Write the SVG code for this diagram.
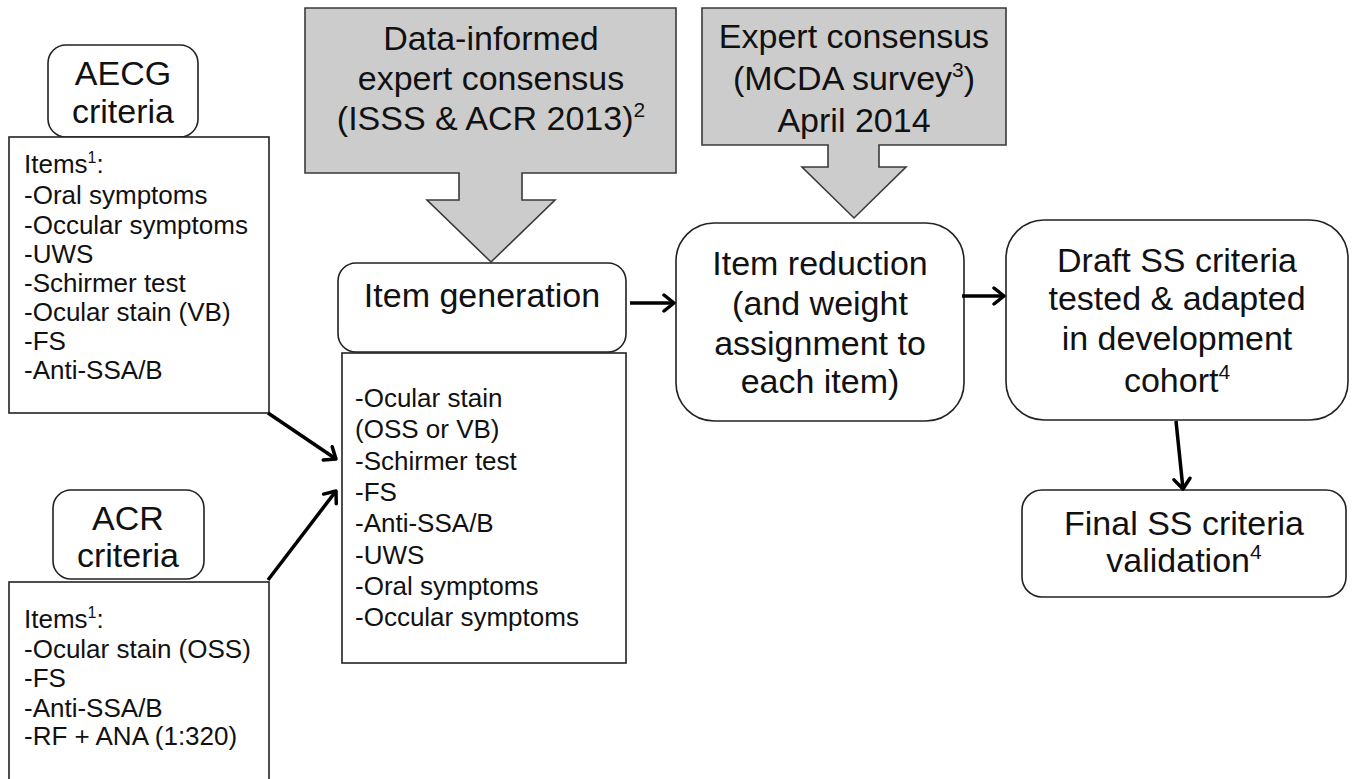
<svg xmlns="http://www.w3.org/2000/svg" width="1352" height="779" viewBox="0 0 1352 779">
<defs>
<style>
.box{fill:#ffffff;stroke:#222;stroke-width:1.6}
.gray{fill:#cccccc;stroke:#3a3a3a;stroke-width:1.6}
.big{font-family:"Liberation Sans",Arial,sans-serif;font-size:34px;fill:#111;text-anchor:middle}
.small{font-family:"Liberation Sans",Arial,sans-serif;font-size:26px;fill:#111}
.con{stroke:#000;stroke-width:3.5;fill:none;marker-end:url(#arr)}
</style>
<marker id="arr" viewBox="0 0 14 20" refX="12" refY="10" markerWidth="14" markerHeight="20" markerUnits="userSpaceOnUse" orient="auto">
<path d="M2,2 L12,10 L2,18" fill="none" stroke="#000" stroke-width="3.5" stroke-linecap="round" stroke-linejoin="round"/>
</marker>
</defs>
<rect width="1352" height="779" fill="#ffffff"/>

<g id="aecg-label">
<rect class="box" x="48" y="45" width="150" height="92" rx="18"/>
<text class="big" x="123" y="85">AECG</text>
<text class="big" x="123" y="123">criteria</text>
</g>
<g id="aecg-items">
<rect class="box" x="9" y="137" width="260" height="276"/>
<text class="small" x="24" y="173">Items<tspan font-size="16" dy="-10">1</tspan><tspan dy="10">:</tspan></text>
<text class="small" x="24" y="204">-Oral symptoms</text>
<text class="small" x="24" y="234">-Occular symptoms</text>
<text class="small" x="24" y="263">-UWS</text>
<text class="small" x="24" y="292">-Schirmer test</text>
<text class="small" x="24" y="321">-Ocular stain (VB)</text>
<text class="small" x="24" y="350">-FS</text>
<text class="small" x="24" y="379">-Anti-SSA/B</text>
</g>

<g id="acr-label">
<rect class="box" x="53" y="490" width="151" height="89" rx="18"/>
<text class="big" x="128" y="530">ACR</text>
<text class="big" x="128" y="567">criteria</text>
</g>
<g id="acr-items">
<rect class="box" x="9" y="582" width="260" height="210"/>
<text class="small" x="24" y="628">Items<tspan font-size="16" dy="-10">1</tspan><tspan dy="10">:</tspan></text>
<text class="small" x="24" y="658">-Ocular stain (OSS)</text>
<text class="small" x="24" y="687">-FS</text>
<text class="small" x="24" y="717">-Anti-SSA/B</text>
<text class="small" x="24" y="745">-RF + ANA (1:320)</text>
</g>

<g id="data-informed">
<path class="gray" d="M305,8 H676 V173 H522 V200 H555 L491,262 L427,200 H459 V173 H305 Z"/>
<text class="big" x="491" y="50">Data-informed</text>
<text class="big" x="491" y="90">expert consensus</text>
<text class="big" x="491" y="130">(ISSS &amp; ACR 2013)<tspan font-size="21" dy="-13">2</tspan></text>
</g>

<g id="mcda">
<path class="gray" d="M702,8 H1006 V145 H879 V167 H906 L854,218 L802,167 H828 V145 H702 Z"/>
<text class="big" x="854" y="48">Expert consensus</text>
<text class="big" x="854" y="90">(MCDA survey<tspan font-size="21" dy="-13">3</tspan><tspan dy="13">)</tspan></text>
<text class="big" x="854" y="132">April 2014</text>
</g>

<g id="item-generation">
<rect class="box" x="338" y="263" width="288" height="89" rx="18"/>
<text class="big" x="482" y="307">Item generation</text>
</g>
<g id="item-list">
<rect class="box" x="342" y="353" width="284" height="310"/>
<text class="small" x="355" y="407">-Ocular stain</text>
<text class="small" x="355" y="438">(OSS or VB)</text>
<text class="small" x="355" y="470">-Schirmer test</text>
<text class="small" x="355" y="501">-FS</text>
<text class="small" x="355" y="532">-Anti-SSA/B</text>
<text class="small" x="355" y="564">-UWS</text>
<text class="small" x="355" y="595">-Oral symptoms</text>
<text class="small" x="355" y="626">-Occular symptoms</text>
</g>

<g id="item-reduction">
<rect class="box" x="676" y="223" width="288" height="198" rx="38"/>
<text class="big" x="820" y="275">Item reduction</text>
<text class="big" x="820" y="315">(and weight</text>
<text class="big" x="820" y="355">assignment to</text>
<text class="big" x="820" y="393">each item)</text>
</g>

<g id="draft">
<rect class="box" x="1006" y="220" width="342" height="200" rx="38"/>
<text class="big" x="1177" y="272">Draft SS criteria</text>
<text class="big" x="1177" y="310">tested &amp; adapted</text>
<text class="big" x="1177" y="350">in development</text>
<text class="big" x="1177" y="392">cohort<tspan font-size="21" dy="-13">4</tspan></text>
</g>

<g id="final">
<rect class="box" x="1022" y="490" width="324" height="107" rx="20"/>
<text class="big" x="1184" y="535">Final SS criteria</text>
<text class="big" x="1184" y="572">validation<tspan font-size="21" dy="-13">4</tspan></text>
</g>

<g id="connectors">
<line class="con" x1="268" y1="413" x2="336" y2="459"/>
<line class="con" x1="268" y1="580" x2="336" y2="491"/>
<line class="con" x1="630" y1="303" x2="674" y2="303"/>
<line class="con" x1="962" y1="296" x2="1004" y2="296"/>
<line class="con" x1="1176" y1="421" x2="1183" y2="489"/>
</g>
</svg>
